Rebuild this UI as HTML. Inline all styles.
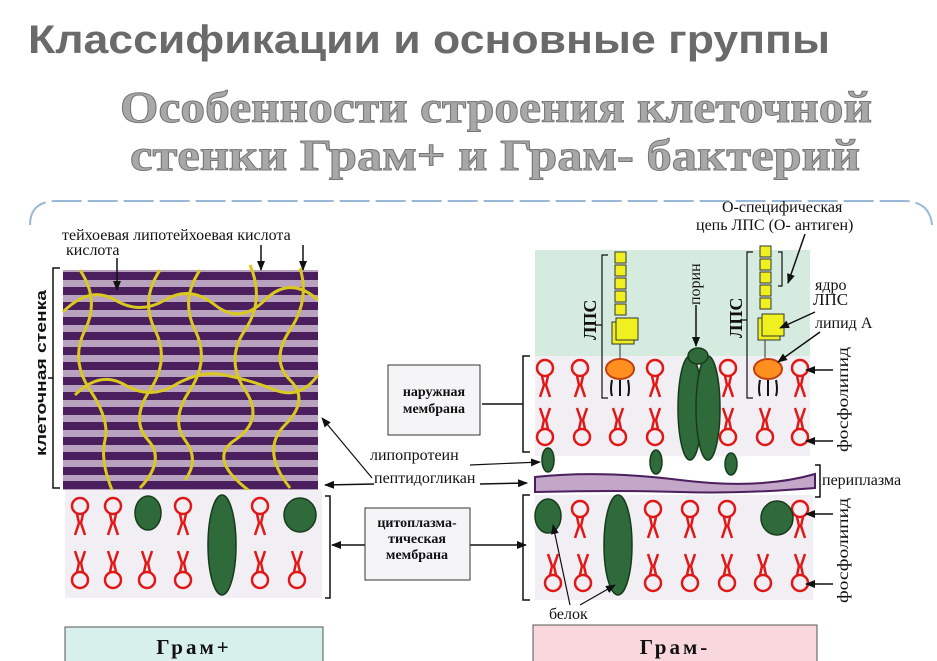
<!DOCTYPE html>
<html><head><meta charset="utf-8"><style>
body{margin:0;background:#fff;width:937px;height:661px;overflow:hidden}
svg{display:block}
.s{font-family:"Liberation Serif",serif;fill:#111}
</style></head><body>
<svg width="937" height="661" viewBox="0 0 937 661" xmlns="http://www.w3.org/2000/svg">
<defs>
<g id="pu" fill="none" stroke="#e01818" stroke-width="2.5">
<circle cx="0" cy="0" r="8"/>
<path d="M-3,8 L-1,17 L-5,29 M3,8 L1,17 L5,29"/>
</g>
<g id="pd"><use href="#pu" transform="scale(1,-1)"/></g>
<marker id="ar" markerWidth="10" markerHeight="8" refX="9" refY="4" orient="auto" markerUnits="userSpaceOnUse"><path d="M0,0 L10,4 L0,8z" fill="#111"/></marker>
</defs>
<rect width="937" height="661" fill="#fff"/>
<text x="28" y="53" font-family="Liberation Sans,sans-serif" font-weight="bold" font-size="40" fill="#6a6a6a" textLength="802" lengthAdjust="spacingAndGlyphs">Классификации и основные группы</text>
<text x="120" y="122" font-family="Liberation Serif,serif" font-weight="bold" font-size="44" fill="#a8a8a8" stroke="#777" stroke-width="1" textLength="752" lengthAdjust="spacingAndGlyphs">Особенности строения клеточной</text>
<text x="130" y="170" font-family="Liberation Serif,serif" font-weight="bold" font-size="44" fill="#a8a8a8" stroke="#777" stroke-width="1" textLength="730" lengthAdjust="spacingAndGlyphs">стенки Грам+ и Грам- бактерий</text>
<path d="M30,225 Q30,202 55,201 L905,201 Q930,202 932,225" fill="none" stroke="#9ab8d8" stroke-width="2" stroke-dasharray="30 6"/>

<!-- Gram+ wall -->
<rect x="63" y="270" width="255" height="220" fill="#b9a2bf"/>
<g stroke="#4b1f5e" stroke-width="8">
<line x1="63" y1="276" x2="318" y2="276"/><line x1="63" y1="291" x2="318" y2="291"/><line x1="63" y1="306" x2="318" y2="306"/><line x1="63" y1="321" x2="318" y2="321"/><line x1="63" y1="336" x2="318" y2="336"/><line x1="63" y1="351" x2="318" y2="351"/><line x1="63" y1="366" x2="318" y2="366"/><line x1="63" y1="381" x2="318" y2="381"/><line x1="63" y1="396" x2="318" y2="396"/><line x1="63" y1="411" x2="318" y2="411"/><line x1="63" y1="426" x2="318" y2="426"/><line x1="63" y1="441" x2="318" y2="441"/><line x1="63" y1="456" x2="318" y2="456"/><line x1="63" y1="471" x2="318" y2="471"/><line x1="63" y1="485" x2="318" y2="485"/>
</g>
<g fill="none" stroke="#d8c820" stroke-width="3">
<path d="M63,312 Q90,285 115,300 T165,300 T215,305 T265,300 T318,300"/>
<path d="M75,395 Q100,370 125,385 T175,385 T225,375 T275,390 T318,375"/>
<path d="M80,270 Q100,300 85,330 T90,390 T105,440 T112,490"/>
<path d="M160,270 Q140,300 155,330 T150,390 T148,440 T140,488"/>
<path d="M200,270 Q180,300 195,330 T190,390 T185,440 T185,480"/>
<path d="M250,265 Q265,300 245,330 T245,390 T235,440 T255,495"/>
<path d="M300,268 Q310,300 290,330 T290,380 T285,425 T290,488"/>
</g>
<path d="M60,268 L53,268 L53,488 L60,488 M53,378 L48,378" fill="none" stroke="#111" stroke-width="1.5"/>
<text transform="translate(46,456) rotate(-90)" font-family="Liberation Sans,sans-serif" font-weight="bold" font-size="15" fill="#111" textLength="166" lengthAdjust="spacingAndGlyphs">клеточная стенка</text>
<text class="s" x="62" y="240" font-size="16">тейхоевая  липотейхоевая  кислота</text>
<text class="s" x="66" y="255" font-size="16">кислота</text>
<line x1="117" y1="258" x2="117" y2="290" stroke="#111" stroke-width="1.5" marker-end="url(#ar)"/>
<line x1="261" y1="245" x2="261" y2="270" stroke="#111" stroke-width="1.5" marker-end="url(#ar)"/>
<line x1="303" y1="245" x2="303" y2="270" stroke="#111" stroke-width="1.5" marker-end="url(#ar)"/>

<!-- Gram+ membrane -->
<rect x="65" y="490" width="257" height="108" fill="#f2eff4"/>
<g>
<use href="#pu" x="80" y="506"/><use href="#pu" x="113" y="506"/><use href="#pu" x="183" y="506"/><use href="#pu" x="260" y="506"/>
<use href="#pd" x="80" y="580"/><use href="#pd" x="113" y="580"/><use href="#pd" x="147" y="580"/><use href="#pd" x="183" y="580"/><use href="#pd" x="260" y="580"/><use href="#pd" x="297" y="580"/>
</g>
<g fill="#2f6b3a" stroke="#173a1c" stroke-width="1.5">
<ellipse cx="148" cy="513" rx="13" ry="17"/>
<ellipse cx="222" cy="545" rx="14" ry="50"/>
<ellipse cx="300" cy="515" rx="16" ry="17"/>
</g>
<path d="M325,496 L330,496 L330,598 L325,598" fill="none" stroke="#111" stroke-width="1.5"/>
<line x1="365" y1="545" x2="332" y2="545" stroke="#111" stroke-width="1.5" marker-end="url(#ar)"/>
<line x1="470" y1="545" x2="526" y2="545" stroke="#111" stroke-width="1.5" marker-end="url(#ar)"/>

<!-- Center boxes -->
<rect x="388" y="365" width="92" height="70" fill="#f5f5f7" stroke="#333" stroke-width="1"/>
<text class="s" x="434" y="396" font-size="14" font-weight="bold" text-anchor="middle">наружная</text>
<text class="s" x="434" y="413" font-size="14" font-weight="bold" text-anchor="middle">мембрана</text>
<rect x="365" y="508" width="105" height="72" fill="#f5f5f7" stroke="#333" stroke-width="1"/>
<text class="s" x="417" y="527" font-size="14" font-weight="bold" text-anchor="middle">цитоплазма-</text>
<text class="s" x="417" y="543" font-size="14" font-weight="bold" text-anchor="middle">тическая</text>
<text class="s" x="417" y="559" font-size="14" font-weight="bold" text-anchor="middle">мембрана</text>
<text class="s" x="370" y="460" font-size="16">липопротеин</text>
<text class="s" x="374" y="483" font-size="16">пептидогликан</text>
<line x1="374" y1="484" x2="325" y2="485" stroke="#111" stroke-width="1.5" marker-end="url(#ar)"/>
<line x1="372" y1="478" x2="322" y2="418" stroke="#111" stroke-width="1.2" marker-end="url(#ar)"/>
<line x1="470" y1="465" x2="540" y2="462" stroke="#111" stroke-width="1.2" marker-end="url(#ar)"/>
<line x1="480" y1="484" x2="527" y2="483" stroke="#111" stroke-width="1.5" marker-end="url(#ar)"/>
<path d="M530,356 L523,356 L523,452 L530,452 M523,404 L482,404" fill="none" stroke="#111" stroke-width="1.5"/>
<path d="M530,495 L523,495 L523,600 L530,600 M523,545 L520,545" fill="none" stroke="#111" stroke-width="1.5"/>

<!-- Gram- -->
<rect x="535" y="250" width="275" height="106" fill="#d6ebe0"/>
<rect x="535" y="356" width="275" height="100" fill="#f2eff4"/>
<rect x="535" y="495" width="278" height="105" fill="#f2eff4"/>
<path d="M535,477 Q600,470 680,480 T815,474 L815,488 Q740,494 680,492 T535,492z" fill="#c3a6c8" stroke="#4b1f5e" stroke-width="2"/>
<g>
<use href="#pu" x="545" y="368"/><use href="#pu" x="580" y="368"/><use href="#pu" x="655" y="368"/><use href="#pu" x="728" y="368"/><use href="#pu" x="800" y="368"/>
<use href="#pd" x="545" y="437"/><use href="#pd" x="582" y="437"/><use href="#pd" x="618" y="437"/><use href="#pd" x="655" y="437"/><use href="#pd" x="728" y="437"/><use href="#pd" x="765" y="437"/><use href="#pd" x="800" y="437"/>
<use href="#pu" x="580" y="509"/><use href="#pu" x="653" y="509"/><use href="#pu" x="690" y="509"/><use href="#pu" x="727" y="509"/><use href="#pu" x="800" y="509"/>
<use href="#pd" x="553" y="583"/><use href="#pd" x="583" y="583"/><use href="#pd" x="653" y="583"/><use href="#pd" x="690" y="583"/><use href="#pd" x="727" y="583"/><use href="#pd" x="763" y="583"/><use href="#pd" x="800" y="583"/>
</g>
<g fill="#2f6b3a" stroke="#173a1c" stroke-width="1.5">
<ellipse cx="548" cy="516" rx="13" ry="17"/>
<ellipse cx="618" cy="545" rx="14" ry="50"/>
<ellipse cx="777" cy="518" rx="16" ry="17"/>
<ellipse cx="548" cy="460" rx="6" ry="12"/>
<ellipse cx="656" cy="462" rx="6" ry="12"/>
<ellipse cx="731" cy="464" rx="6" ry="11"/>
<ellipse cx="690" cy="408" rx="12" ry="52"/>
<ellipse cx="708" cy="408" rx="12" ry="52"/>
<ellipse cx="698" cy="356" rx="10" ry="8"/>
</g>
<!-- LPS -->
<g stroke="#333" stroke-width="1">
<g fill="#f0f020">
<rect x="615" y="252" width="11" height="11"/><rect x="615" y="265" width="11" height="11"/><rect x="615" y="278" width="11" height="11"/><rect x="615" y="291" width="11" height="11"/><rect x="615" y="304" width="11" height="11"/>
<rect x="612" y="322" width="22" height="22"/><rect x="616" y="318" width="22" height="22"/>
<rect x="760" y="246" width="11" height="11"/><rect x="760" y="259" width="11" height="11"/><rect x="760" y="272" width="11" height="11"/><rect x="760" y="285" width="11" height="11"/><rect x="760" y="298" width="11" height="11"/>
<rect x="758" y="318" width="22" height="22"/><rect x="762" y="314" width="22" height="22"/>
</g>
<line x1="620" y1="344" x2="620" y2="358"/><line x1="765" y1="340" x2="765" y2="358"/>
<ellipse cx="620" cy="369" rx="14" ry="10" fill="#ff9020" stroke="#c04010" stroke-width="2"/>
<ellipse cx="768" cy="369" rx="14" ry="10" fill="#ff9020" stroke="#c04010" stroke-width="2"/>
</g>
<path d="M612,380 q-2,10 0,16 M620,380 q0,10 0,16 M628,380 q2,10 0,16 M760,380 q-2,10 0,16 M768,380 q0,10 0,16 M776,380 q2,10 0,16" fill="none" stroke="#111" stroke-width="2"/>
<path d="M608,255 L602,255 L602,398 L608,398 M602,325 L595,325" fill="none" stroke="#111" stroke-width="1.2"/>
<path d="M753,252 L747,252 L747,398 L753,398 M747,320 L740,320" fill="none" stroke="#111" stroke-width="1.2"/>
<path d="M778,252 L782,252 L782,286 L778,286" fill="none" stroke="#111" stroke-width="1.2"/>
<text transform="translate(596,340) rotate(-90)" class="s" font-size="18" font-weight="bold">ЛПС</text>
<text transform="translate(742,338) rotate(-90)" class="s" font-size="18" font-weight="bold">ЛПС</text>
<text transform="translate(700,305) rotate(-90)" class="s" font-size="16">порин</text>
<line x1="696" y1="305" x2="696" y2="346" stroke="#111" stroke-width="1.5" marker-end="url(#ar)"/>
<text class="s" x="722" y="212" font-size="16">О-специфическая</text>
<text class="s" x="696" y="230" font-size="16">цепь ЛПС (О- антиген)</text>
<line x1="805" y1="234" x2="788" y2="283" stroke="#111" stroke-width="1.5" marker-end="url(#ar)"/>
<text class="s" x="815" y="290" font-size="16">ядро</text>
<text class="s" x="813" y="305" font-size="17">ЛПС</text>
<line x1="815" y1="312" x2="780" y2="328" stroke="#111" stroke-width="1.5" marker-end="url(#ar)"/>
<text class="s" x="815" y="328" font-size="16">липид А</text>
<line x1="820" y1="332" x2="778" y2="362" stroke="#111" stroke-width="1.5" marker-end="url(#ar)"/>
<line x1="833" y1="370" x2="806" y2="370" stroke="#111" stroke-width="1.5" marker-end="url(#ar)"/>
<line x1="833" y1="441" x2="806" y2="441" stroke="#111" stroke-width="1.5" marker-end="url(#ar)"/>
<line x1="833" y1="514" x2="806" y2="514" stroke="#111" stroke-width="1.5" marker-end="url(#ar)"/>
<line x1="833" y1="584" x2="806" y2="584" stroke="#111" stroke-width="1.5" marker-end="url(#ar)"/>
<text transform="translate(848,452) rotate(-90)" class="s" font-size="16" textLength="105" lengthAdjust="spacingAndGlyphs">фосфолипид</text>
<text transform="translate(848,603) rotate(-90)" class="s" font-size="16" textLength="105" lengthAdjust="spacingAndGlyphs">фосфолипид</text>
<path d="M815,465 L820,465 L820,497 L815,497" fill="none" stroke="#111" stroke-width="1.5"/>
<text class="s" x="822" y="485" font-size="16">периплазма</text>
<text class="s" x="549" y="619" font-size="16">белок</text>
<line x1="570" y1="605" x2="553" y2="525" stroke="#111" stroke-width="1.2" marker-end="url(#ar)"/>
<line x1="580" y1="605" x2="615" y2="585" stroke="#111" stroke-width="1.2" marker-end="url(#ar)"/>

<!-- Bottom labels -->
<rect x="65" y="627" width="258" height="36" fill="#d8f0ec" stroke="#555" stroke-width="1"/>
<text class="s" x="194" y="654" font-size="21" font-weight="bold" text-anchor="middle" letter-spacing="3" fill="#333">Грам+</text>
<rect x="533" y="625" width="284" height="38" fill="#f8d8dc" stroke="#555" stroke-width="1"/>
<text class="s" x="675" y="654" font-size="21" font-weight="bold" text-anchor="middle" letter-spacing="3" fill="#8a1010">Грам-</text>
</svg>
</body></html>
